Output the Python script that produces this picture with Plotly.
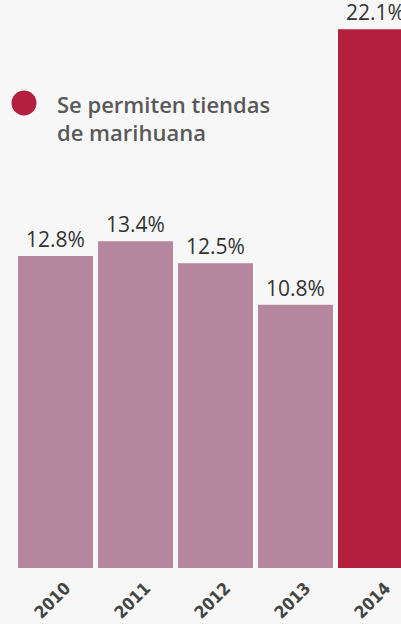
import plotly.graph_objects as go

years = ["2010", "2011", "2012", "2013", "2014"]
values = [12.8, 13.4, 12.5, 10.8, 22.1]
labels = ["12.8%", "13.4%", "12.5%", "10.8%", "22.1%"]
stores_allowed = [False, False, False, False, True]
legend_lines = ["Se permiten tiendas", "de marihuana"]

MAUVE = "#b5879f"
CRIMSON = "#b41f3f"
BG = "#f7f7f7"

W, H = 401, 624
plot_bottom = 568

def px(x):
    return x / W

def py(y):
    return (plot_bottom - y) / plot_bottom

colors = [CRIMSON if s else MAUVE for s in stores_allowed]

fig = go.Figure(go.Bar(
    x=years, y=values, text=labels,
    marker=dict(color=colors, line=dict(width=0)),
    textposition="outside", cliponaxis=False,
    textfont=dict(family="Open Sans", size=21, color="#333333"),
    hoverinfo="skip",
))

fig.update_layout(
    width=W, height=H,
    margin=dict(l=0, r=0, t=0, b=H - plot_bottom),
    paper_bgcolor=BG, plot_bgcolor=BG,
    bargap=0.0625,
    showlegend=False,
    xaxis=dict(
        type="category", range=[-0.694, 4.319],
        showgrid=False, zeroline=False, showline=False, ticks="",
        tickangle=-45, ticklabelshift=10, ticklabelstandoff=6,
        tickfont=dict(family="DejaVu Sans Condensed, DejaVu Sans", size=17,
                      color="#454545", weight="bold"),
    ),
    yaxis=dict(range=[0, 23.3], visible=False),
    shapes=[dict(type="circle", xref="paper", yref="paper",
                 x0=px(11.5), x1=px(36.5), y0=py(115.5), y1=py(90.5),
                 fillcolor=CRIMSON, line=dict(width=0))],
    annotations=[
        dict(text=legend_lines[0], xref="paper", yref="paper", x=px(55), y=py(104),
             xanchor="left", yanchor="middle", showarrow=False,
             font=dict(family="Open Sans", size=22, color="#595959", weight=600)),
        dict(text=legend_lines[1], xref="paper", yref="paper", x=px(55), y=py(132),
             xanchor="left", yanchor="middle", showarrow=False,
             font=dict(family="Open Sans", size=22, color="#595959", weight=600)),
    ],
)

fig.write_html("out.html", config={"displayModeBar": False},
               post_script="document.body.style.margin='0';document.body.style.overflow='hidden';")
